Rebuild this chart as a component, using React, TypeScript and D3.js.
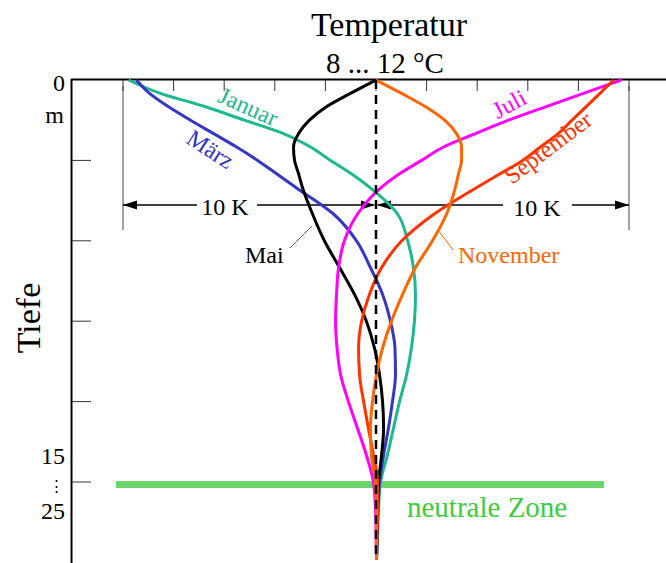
import React from "react";
import * as d3 from "d3";

// depth in metres (0 … 15 shown, then break to 25)
const depths = [0, 0.5, 1, 1.5, 2, 2.5, 3, 3.5, 4, 5, 6, 7, 8, 9, 10, 11, 12, 13, 14, 15, 16, 17, 17.9];

// temperature deviation from mean (K)
const januar = [-9.78, -8.52, -6.74, -5.2, -3.66, -2.59, -1.8, -0.97, -0.26, 0.85, 1.25, 1.48, 1.56, 1.52, 1.4, 1.21, 0.93, 0.69, 0.45, 0.18, 0.1, 0.06, 0.02];
const maerz = [-9.47, -8.95, -8.2, -7.33, -6.42, -5.51, -4.68, -3.93, -3.18, -1.68, -0.77, -0.22, 0.26, 0.57, 0.75, 0.77, 0.65, 0.49, 0.3, 0.14, 0.08, 0.04, 0.02];
const mai = [0, -1.01, -1.96, -2.63, -3.06, -3.26, -3.22, -3.06, -2.91, -2.51, -2.04, -1.44, -0.85, -0.38, -0.06, 0.14, 0.26, 0.3, 0.22, 0.1, 0.06, 0.04, 0.02];
const juli = [9.7, 8.2, 6.7, 5.24, 3.93, 2.67, 1.8, 0.93, 0.22, -0.73, -1.25, -1.48, -1.56, -1.6, -1.54, -1.4, -1.09, -0.73, -0.38, -0.1, -0.02, 0, 0.02];
const september = [9.39, 8.85, 8.3, 7.75, 7.2, 6.5, 5.8, 4.9, 4.0, 2.3, 1.02, 0.22, -0.26, -0.57, -0.69, -0.65, -0.49, -0.3, -0.1, 0.06, 0.06, 0.04, 0.02];
const november = [0, 1.01, 1.96, 2.71, 3.18, 3.38, 3.38, 3.26, 3.14, 2.79, 2.23, 1.56, 1.05, 0.61, 0.26, 0.02, -0.14, -0.22, -0.18, -0.02, 0.02, 0.02, 0.02];

const seriesNames = ["Januar", "März", "Mai", "Juli", "September", "November"];
const seriesValues = [januar, maerz, mai, juli, september, november];
const seriesColors = ["#1cb990", "#3535c8", "#000000", "#ff00ff", "#ff3300", "#ff6600"];

const topTicks = [-10, -8, -6, -4, -2, 0, 2, 4, 6, 8, 10];
const depthTicks = [3, 6, 9, 12, 15];

const FONT = "'Liberation Serif', 'Times New Roman', serif";

export default function App() {
  const x = d3.scaleLinear().domain([-10, 10]).range([123, 629]);
  const y = d3.scaleLinear().domain([0, 15]).range([80, 482]);

  const line = d3
    .line<[number, number]>()
    .x((d) => x(d[0]))
    .y((d) => y(d[1]))
    .curve(d3.curveMonotoneY);

  const cx = x(0);
  const arrowY = 205;
  const ah = 14;
  const aw = 4.5;
  const lx = x(-10);
  const rx = x(10);

  const labelStyle = { fontFamily: FONT, fontSize: 24 } as const;

  return (
    <svg width={666} height={563} style={{ position: "absolute", left: 0, top: 0, background: "#fff" }}>
      {/* title */}
      <text x={389} y={36} textAnchor="middle" fontFamily={FONT} fontSize={34}>Temperatur</text>
      <text x={385} y={73} textAnchor="middle" fontFamily={FONT} fontSize={29}>8 ... 12 °C</text>

      {/* axes */}
      <line x1={71.5} y1={79} x2={71.5} y2={563} stroke="#000" strokeWidth={2} />
      <line x1={71} y1={79.5} x2={666} y2={79.5} stroke="#000" strokeWidth={2} />
      {topTicks.map((t) => (
        <line key={t} x1={x(t)} x2={x(t)} y1={80} y2={91} stroke="#333" strokeWidth={1} />
      ))}
      {depthTicks.map((d) => (
        <line key={d} x1={72} x2={91} y1={y(d)} y2={y(d)} stroke="#333" strokeWidth={1} />
      ))}
      <text x={65} y={91} textAnchor="end" fontFamily={FONT} fontSize={24}>0</text>
      <text x={64} y={123} textAnchor="end" fontFamily={FONT} fontSize={24}>m</text>
      <text x={65} y={464} textAnchor="end" fontFamily={FONT} fontSize={24}>15</text>
      <text x={56} y={491} textAnchor="middle" fontFamily={FONT} fontSize={15}>⋮</text>
      <text x={65} y={519} textAnchor="end" fontFamily={FONT} fontSize={24}>25</text>
      <text transform="translate(40,318) rotate(-90)" textAnchor="middle" fontFamily={FONT} fontSize={34}>Tiefe</text>

      {/* 10 K brackets */}
      <line x1={lx} x2={lx} y1={86} y2={230} stroke="#444" strokeWidth={1} />
      <line x1={rx} x2={rx} y1={86} y2={230} stroke="#444" strokeWidth={1} />
      <line x1={lx} x2={197} y1={arrowY} y2={arrowY} stroke="#000" strokeWidth={1.3} />
      <line x1={257} x2={cx - 2} y1={arrowY} y2={arrowY} stroke="#000" strokeWidth={1.3} />
      <line x1={cx + 2} x2={503} y1={arrowY} y2={arrowY} stroke="#000" strokeWidth={1.3} />
      <line x1={572} x2={rx} y1={arrowY} y2={arrowY} stroke="#000" strokeWidth={1.3} />
      <polygon points={`${lx},${arrowY} ${lx + ah},${arrowY - aw} ${lx + ah},${arrowY + aw}`} fill="#000" />
      <polygon points={`${cx - 1},${arrowY} ${cx - 1 - ah},${arrowY - aw} ${cx - 1 - ah},${arrowY + aw}`} fill="#000" />
      <polygon points={`${cx + 1},${arrowY} ${cx + 1 + ah},${arrowY - aw} ${cx + 1 + ah},${arrowY + aw}`} fill="#000" />
      <polygon points={`${rx},${arrowY} ${rx - ah},${arrowY - aw} ${rx - ah},${arrowY + aw}`} fill="#000" />
      <text x={225} y={215} textAnchor="middle" {...labelStyle}>10 K</text>
      <text x={537} y={216} textAnchor="middle" {...labelStyle}>10 K</text>

      {/* neutral zone band */}
      <rect x={116} y={481} width={488} height={7} fill="#6bd46b" />
      <text x={407} y={517} fontFamily={FONT} fontSize={29} fill="#3ccc3c">neutrale Zone</text>

      {/* curves */}
      {seriesValues.map((vals, i) => (
        <path
          key={seriesNames[i]}
          d={line(vals.map((v, j) => [v, depths[j]] as [number, number])) || ""}
          fill="none"
          stroke={seriesColors[i]}
          strokeWidth={3}
        />
      ))}

      {/* centre dashed line */}
      <line x1={cx} x2={cx} y1={80} y2={560} stroke="#000" strokeWidth={2.5} strokeDasharray="9,6" />

      {/* series labels */}
      <text transform="translate(245,114) rotate(24)" textAnchor="middle" {...labelStyle} fill={seriesColors[0]}>Januar</text>
      <text transform="translate(206,156) rotate(33)" textAnchor="middle" {...labelStyle} fill={seriesColors[1]}>März</text>
      <text transform="translate(513,111) rotate(-28)" textAnchor="middle" {...labelStyle} fill={seriesColors[3]}>Juli</text>
      <text transform="translate(553,154) rotate(-37)" textAnchor="middle" {...labelStyle} fill={seriesColors[4]}>September</text>
      <text x={245} y={263} {...labelStyle} fill="#000">Mai</text>
      <line x1={290} y1={248} x2={312} y2={226} stroke="#666" strokeWidth={1} />
      <text x={458} y={263} {...labelStyle} fill={seriesColors[5]}>November</text>
      <line x1={438} y1={230} x2={453} y2={250} stroke={seriesColors[5]} strokeWidth={1} />
    </svg>
  );
}
